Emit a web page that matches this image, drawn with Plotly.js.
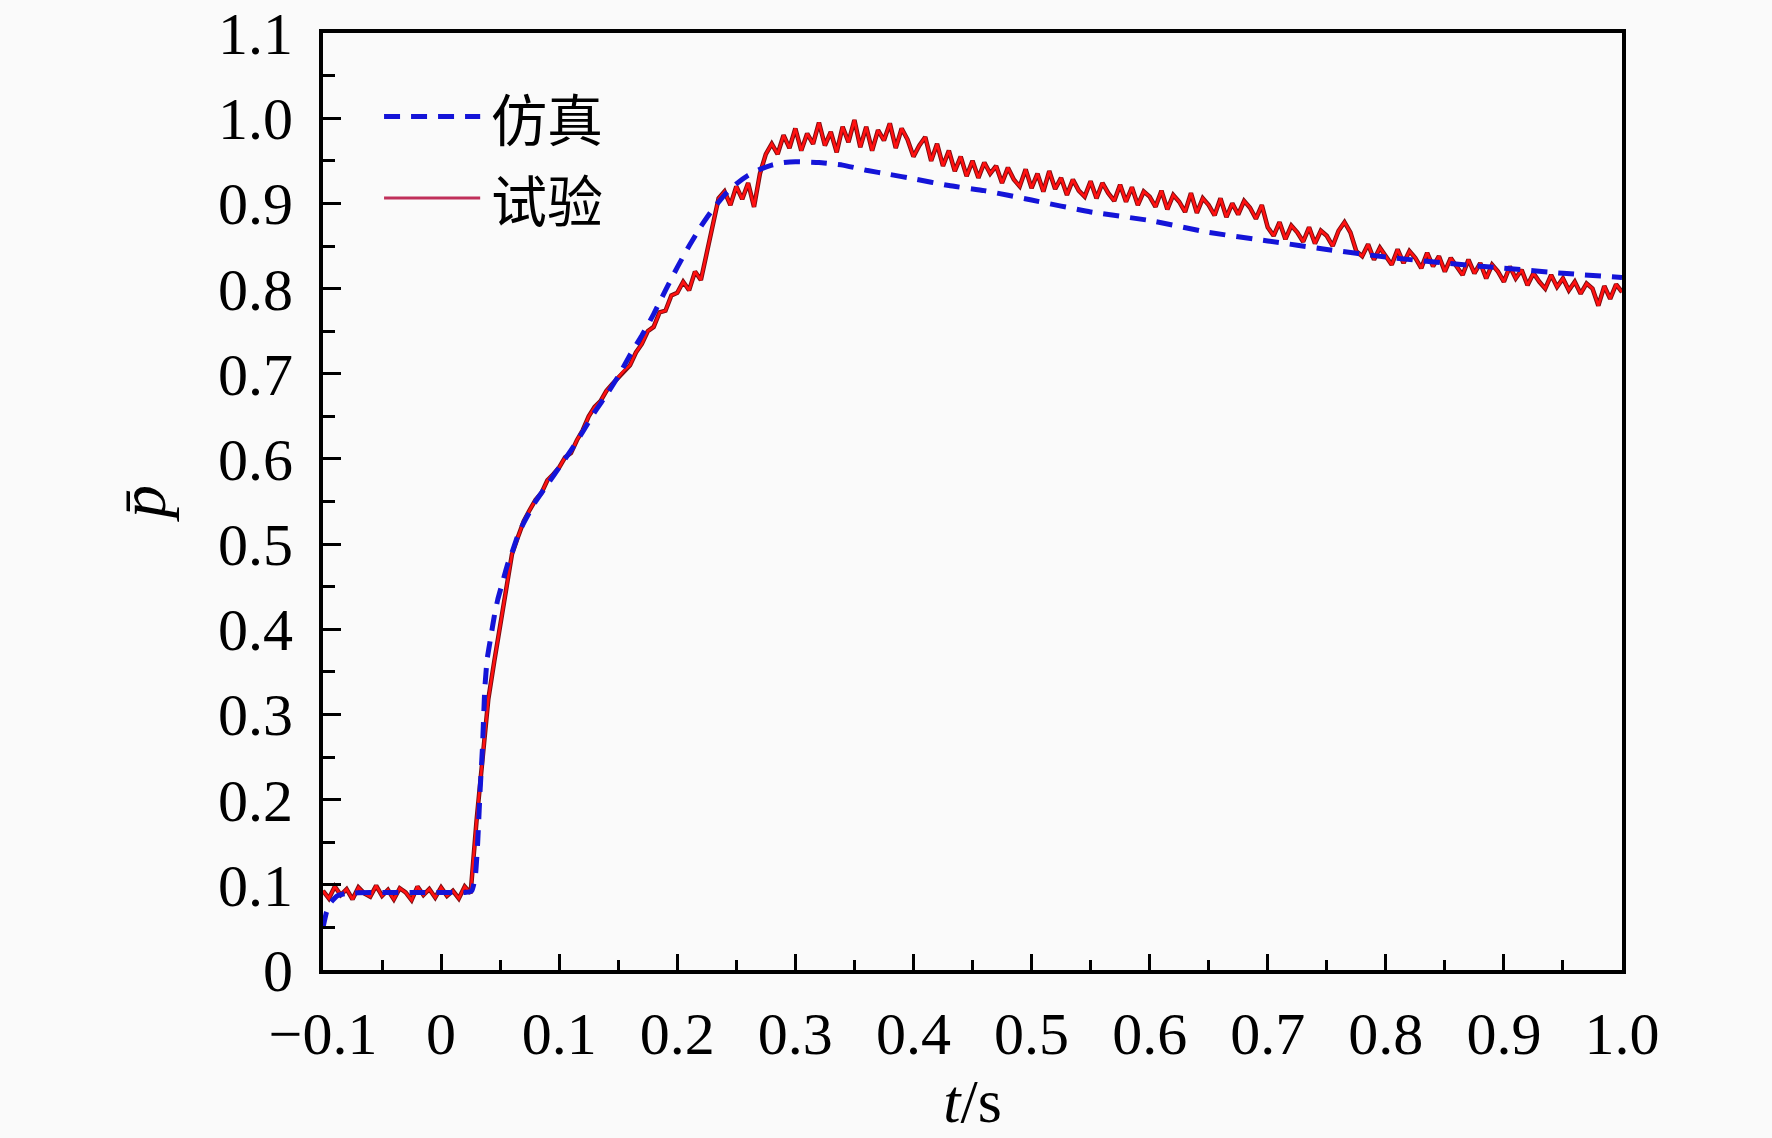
<!DOCTYPE html>
<html>
<head>
<meta charset="utf-8">
<script src="https://cdn.plot.ly/plotly-3.0.1.min.js"></script>
<style>
  html, body { margin: 0; padding: 0; background: #fafafa; }
  #chart { width: 1772px; height: 1138px; }
</style>
</head>
<body>
<div id="chart"></div>
<script>
// simulation curve (smooth)
const simT = [-0.1, -0.097, -0.093, -0.088, -0.08, -0.06, -0.04, -0.02, 0, 0.02, 0.026, 0.029,
  0.031, 0.033, 0.035, 0.037, 0.039, 0.042, 0.045, 0.048, 0.052, 0.056, 0.06, 0.065, 0.07,
  0.08, 0.09, 0.1, 0.11, 0.12, 0.13, 0.14, 0.15, 0.16, 0.17, 0.18, 0.19, 0.2, 0.21, 0.22,
  0.23, 0.24, 0.25, 0.26, 0.27, 0.28, 0.29, 0.3, 0.32, 0.34, 0.36, 0.38, 0.4, 0.43, 0.46,
  0.5, 0.55, 0.6, 0.65, 0.7, 0.75, 0.8, 0.85, 0.9, 0.95, 1.0]
const simP = [0.05, 0.068, 0.080, 0.087, 0.090, 0.091, 0.091, 0.091, 0.091, 0.091, 0.093, 0.11,
  0.15, 0.21, 0.26, 0.33, 0.365, 0.39, 0.415, 0.435, 0.455, 0.475, 0.49, 0.51, 0.525,
  0.55, 0.57, 0.59, 0.61, 0.632, 0.655, 0.675, 0.697, 0.722, 0.745, 0.770, 0.798, 0.825, 0.850, 0.873,
  0.893, 0.910, 0.923, 0.933, 0.940, 0.945, 0.948, 0.949, 0.948, 0.945, 0.939, 0.934, 0.929, 0.921, 0.915,
  0.904, 0.890, 0.880, 0.866, 0.856, 0.846, 0.837, 0.830, 0.824, 0.818, 0.813]

// test record, sampled every 5 ms from t = -0.1 s (one row = 50 ms)
const expT0 = -0.1
const expDt = 0.005
const expP = [
  0.093, 0.084, 0.098, 0.088, 0.095, 0.083, 0.097, 0.090, 0.086, 0.099,
  0.087, 0.094, 0.083, 0.096, 0.091, 0.082, 0.098, 0.088, 0.095, 0.085,
  0.097, 0.087, 0.093, 0.084, 0.098, 0.090, 0.175, 0.245, 0.318, 0.362,
  0.405, 0.448, 0.488, 0.508, 0.527, 0.540, 0.552, 0.560, 0.575, 0.582,
  0.590, 0.602, 0.607, 0.622, 0.634, 0.650, 0.661, 0.668, 0.680, 0.688,
  0.696, 0.704, 0.710, 0.725, 0.735, 0.750, 0.755, 0.772, 0.774, 0.792,
  0.795, 0.808, 0.798, 0.820, 0.810, 0.842, 0.875, 0.906, 0.914, 0.898,
  0.920, 0.905, 0.924, 0.896, 0.935, 0.958, 0.970, 0.958, 0.980, 0.965,
  0.988, 0.962, 0.982, 0.970, 0.995, 0.968, 0.984, 0.960, 0.990, 0.972,
  0.998, 0.966, 0.990, 0.962, 0.986, 0.974, 0.994, 0.965, 0.988, 0.975,
  0.955, 0.968, 0.978, 0.950, 0.970, 0.944, 0.962, 0.938, 0.955, 0.932,
  0.950, 0.930, 0.948, 0.935, 0.944, 0.924, 0.942, 0.928, 0.920, 0.940,
  0.918, 0.935, 0.914, 0.938, 0.917, 0.930, 0.910, 0.928, 0.915, 0.908,
  0.926, 0.906, 0.924, 0.912, 0.903, 0.922, 0.902, 0.919, 0.898, 0.914,
  0.908, 0.896, 0.915, 0.893, 0.910, 0.902, 0.890, 0.912, 0.889, 0.906,
  0.898, 0.886, 0.906, 0.884, 0.900, 0.887, 0.903, 0.895, 0.882, 0.898,
  0.872, 0.862, 0.878, 0.858, 0.874, 0.866, 0.855, 0.872, 0.853, 0.868,
  0.862, 0.850, 0.868, 0.878, 0.866, 0.844, 0.838, 0.852, 0.834, 0.848,
  0.838, 0.828, 0.846, 0.830, 0.844, 0.836, 0.824, 0.842, 0.826, 0.838,
  0.820, 0.836, 0.826, 0.816, 0.834, 0.818, 0.830, 0.812, 0.828, 0.820,
  0.808, 0.826, 0.812, 0.822, 0.804, 0.818, 0.808, 0.800, 0.816, 0.802,
  0.812, 0.798, 0.808, 0.794, 0.806, 0.800, 0.780, 0.803, 0.788, 0.805,
  0.796
]
const expT = expP.map((_, i) => +(expT0 + i * expDt).toFixed(4))

const xTicks = [-0.1, 0, 0.1, 0.2, 0.3, 0.4, 0.5, 0.6, 0.7, 0.8, 0.9, 1.0]
const xTickText = ['\u22120.1', '0', '0.1', '0.2', '0.3', '0.4', '0.5', '0.6', '0.7', '0.8', '0.9', '1.0']
const yTicks = [0, 0.1, 0.2, 0.3, 0.4, 0.5, 0.6, 0.7, 0.8, 0.9, 1.0, 1.1]
const yTickText = ['0', '0.1', '0.2', '0.3', '0.4', '0.5', '0.6', '0.7', '0.8', '0.9', '1.0', '1.1']
const seriesNames = ['仿真', '试验']

const serif = 'Liberation Serif, Times New Roman, serif'
const cjk = 'Noto Sans CJK SC, sans-serif'

const data = [
  {
    name: seriesNames[1] + ' (edge)',
    x: expT, y: expP,
    mode: 'lines', type: 'scatter',
    line: { color: '#7a0c10', width: 4.5 },
    hoverinfo: 'skip', showlegend: false
  },
  {
    name: seriesNames[1],
    x: expT, y: expP,
    mode: 'lines', type: 'scatter',
    line: { color: '#ff1010', width: 2.6 },
    showlegend: false
  },
  {
    name: seriesNames[0],
    x: simT, y: simP,
    mode: 'lines', type: 'scatter',
    line: { color: '#1414d8', width: 5, dash: '16px,11px', shape: 'spline', smoothing: 0.4 },
    showlegend: false
  }
]

const axisCommon = {
  showline: true, linecolor: '#000', linewidth: 4, mirror: true,
  showgrid: false, zeroline: false, fixedrange: true,
  ticks: 'inside', tickcolor: '#000', tickwidth: 3,
  ticklabeloverflow: 'allow',
  tickfont: { family: serif, size: 60, color: '#000' }
}

const layout = {
  width: 1772, height: 1138,
  paper_bgcolor: '#fafafa', plot_bgcolor: '#fafafa',
  margin: { l: 323, r: 150, t: 33, b: 168 },
  showlegend: false,
  xaxis: Object.assign({}, axisCommon, {
    range: [-0.1, 1.0],
    tickmode: 'array', tickvals: xTicks, ticktext: xTickText,
    ticklen: 16, ticklabelstandoff: 8,
    minor: { dtick: 0.05, tick0: -0.1, ticks: 'inside', ticklen: 10, tickwidth: 3, tickcolor: '#000' },
    title: { text: '<i>t</i>/s', font: { family: serif, size: 62, color: '#000' }, standoff: 8 }
  }),
  yaxis: Object.assign({}, axisCommon, {
    range: [0, 1.1001],
    tickmode: 'array', tickvals: yTicks, ticktext: yTickText,
    ticklen: 18, ticklabelstandoff: 14,
    minor: { dtick: 0.05, tick0: 0, ticks: 'inside', ticklen: 12, tickwidth: 3, tickcolor: '#000' },
    title: { text: '<i>p\u0304</i>', font: { family: serif, size: 66, color: '#000' }, standoff: 32 }
  }),
  // hand-drawn legend in the upper left of the plot
  shapes: [
    { type: 'line', xref: 'paper', yref: 'paper', x0: 0.047, x1: 0.121, y0: 0.911, y1: 0.911,
      line: { color: '#1414d8', width: 5, dash: '16px,11px' } },
    { type: 'line', xref: 'paper', yref: 'paper', x0: 0.047, x1: 0.121, y0: 0.824, y1: 0.824,
      line: { color: '#c0305a', width: 3 } }
  ],
  annotations: [
    { xref: 'paper', yref: 'paper', x: 0.128, y: 0.911, xanchor: 'left', yanchor: 'middle',
      text: seriesNames[0], showarrow: false, font: { family: cjk, size: 56, color: '#000' } },
    { xref: 'paper', yref: 'paper', x: 0.128, y: 0.824, xanchor: 'left', yanchor: 'middle',
      text: seriesNames[1], showarrow: false, font: { family: cjk, size: 56, color: '#000' } }
  ]
}

const config = { responsive: false, displayModeBar: false, staticPlot: true }

Plotly.newPlot(document.getElementById('chart'), data, layout, config)
</script>
</body>
</html>
